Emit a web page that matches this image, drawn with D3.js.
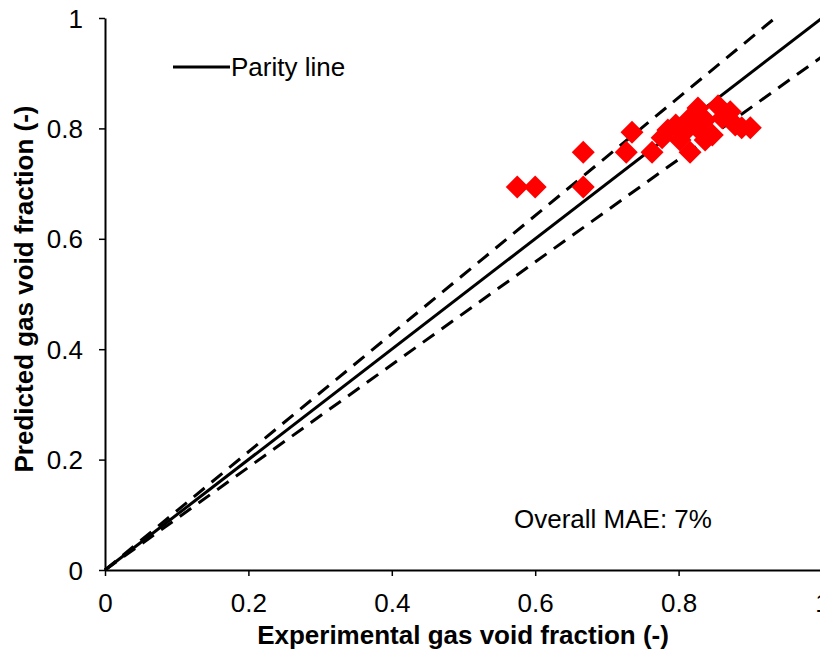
<!DOCTYPE html>
<html>
<head>
<meta charset="utf-8">
<script src="https://cdn.jsdelivr.net/npm/d3@7"></script>
<style>
  body { margin: 0; background: #fff; }
  text { font-family: "Liberation Sans", Arial, sans-serif; }
</style>
</head>
<body>
<script>
// data
var expX = [0.575, 0.600, 0.667, 0.667, 0.735, 0.727, 0.763, 0.777, 0.785, 0.796,
            0.808, 0.816, 0.816, 0.826, 0.827, 0.837, 0.847, 0.855, 0.861, 0.872,
            0.879, 0.888, 0.900, 0.837, 0.802];
var predY = [0.694, 0.694, 0.757, 0.694, 0.793, 0.757, 0.757, 0.783, 0.797, 0.806,
             0.793, 0.757, 0.819, 0.801, 0.837, 0.815, 0.788, 0.841, 0.819, 0.830,
             0.806, 0.801, 0.801, 0.779, 0.779];
var ticks = [0, 0.2, 0.4, 0.6, 0.8, 1];
var bandUp = 1.07, bandLow = 0.93;

var width = 820, height = 655;
var svg = d3.select("body").append("svg")
  .attr("width", width).attr("height", height);

var x = d3.scaleLinear().domain([0, 1]).range([105, 822]);
var y = d3.scaleLinear().domain([0, 1]).range([570, 18]);

// axes
var xAxis = svg.append("g").attr("transform", "translate(0,570)")
  .call(d3.axisBottom(x).tickValues(ticks).tickFormat(d3.format("")).tickSize(6).tickSizeOuter(0));
var yAxis = svg.append("g").attr("transform", "translate(105,0)")
  .call(d3.axisLeft(y).tickValues(ticks).tickFormat(d3.format("")).tickSize(6).tickSizeOuter(0));

[xAxis, yAxis].forEach(function(a) {
  a.select(".domain").attr("stroke", "#000").attr("stroke-width", 2);
  a.selectAll(".tick line").attr("stroke", "#000").attr("stroke-width", 1.5);
  a.selectAll(".tick text").attr("font-size", 26).attr("fill", "#000")
    .style("font-family", "Liberation Sans, Arial, sans-serif");
});
xAxis.selectAll(".tick text").attr("dy", null).attr("y", 42);
yAxis.selectAll(".tick text").attr("x", -22).attr("dy", "0.35em");

// lines
var line = d3.line().x(function(d) { return x(d[0]); }).y(function(d) { return y(d[1]); });
svg.append("path").attr("d", line([[0, 0], [1, 1]]))
  .attr("stroke", "#000").attr("stroke-width", 3).attr("fill", "none");
svg.append("path").attr("d", line([[0, 0], [1 / bandUp, 1]]))
  .attr("stroke", "#000").attr("stroke-width", 3).attr("fill", "none")
  .attr("stroke-dasharray", "14,9");
svg.append("path").attr("d", line([[0, 0], [1, bandLow]]))
  .attr("stroke", "#000").attr("stroke-width", 3).attr("fill", "none")
  .attr("stroke-dasharray", "14,9");

// points
var r = 11.5;
svg.append("g").selectAll("path")
  .data(expX.map(function(v, i) { return [v, predY[i]]; }))
  .enter().append("path")
  .attr("fill", "#ff0000")
  .attr("d", function(d) {
    var cx = x(d[0]), cy = y(d[1]);
    return "M" + cx + "," + (cy - r) + "L" + (cx + r) + "," + cy +
           "L" + cx + "," + (cy + r) + "L" + (cx - r) + "," + cy + "Z";
  });

// legend
svg.append("line").attr("x1", 173).attr("x2", 230).attr("y1", 67).attr("y2", 67)
  .attr("stroke", "#000").attr("stroke-width", 3);
svg.append("text").attr("x", 231).attr("y", 76).attr("font-size", 26).text("Parity line");

svg.append("text").attr("x", 514).attr("y", 528).attr("font-size", 26).text("Overall MAE: 7%");

// axis titles
svg.append("text").attr("x", 463).attr("y", 644).attr("text-anchor", "middle")
  .attr("font-size", 26).attr("font-weight", "bold").text("Experimental gas void fraction (-)");
svg.append("text").attr("transform", "translate(33,289) rotate(-90)")
  .attr("text-anchor", "middle").attr("font-size", 26).attr("font-weight", "bold")
  .text("Predicted gas void fraction (-)");
</script>
</body>
</html>
